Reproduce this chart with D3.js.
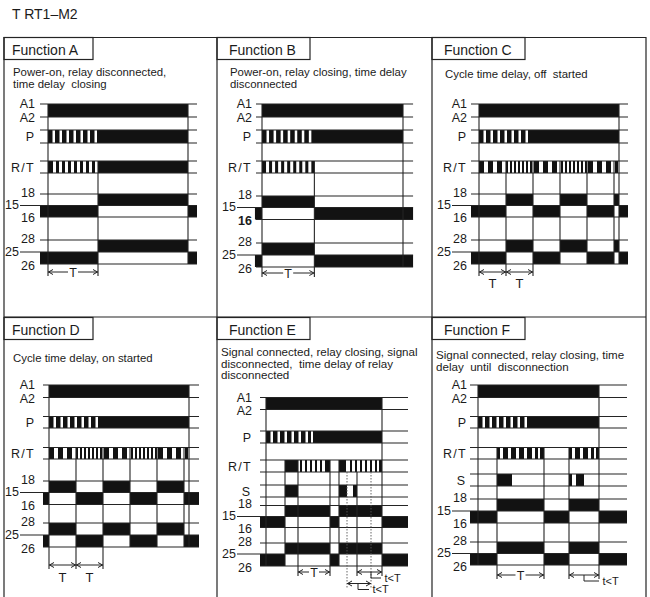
<!DOCTYPE html>
<html>
<head>
<meta charset="utf-8">
<script src="https://cdn.jsdelivr.net/npm/d3@7"></script>
<style>
  body { margin: 0; background: #fff; }
  text { font-family: "Liberation Sans", Arial, sans-serif; fill: #1b1b1b; white-space: pre; }
</style>
</head>
<body>
<svg width="650" height="597"></svg>
<script>
var svg = d3.select('svg');
var ink = '#121212', ruleColor = '#242424';

var pageTitle = 'T RT1\u2013M2';
var funcNames = ['Function A', 'Function B', 'Function C', 'Function D', 'Function E', 'Function F'];
var funcNotes = [
  ['Power-on, relay disconnected,', 'time delay  closing'],
  ['Power-on, relay closing, time delay', 'disconnected'],
  ['Cycle time delay, off  started'],
  ['Cycle time delay, on started'],
  ['Signal connected, relay closing, signal', 'disconnected,  time delay of relay', 'disconnected'],
  ['Signal connected, relay closing, time', 'delay  until  disconnection']
];

// all times: power-on = 0, units
// Function A
var aSupply = [[0, 140]];
var aPulse  = [[0, 4.5], [7, 11.5], [14, 18.5], [21, 25.5], [28, 32.5], [35, 39.5], [42, 46.5], [49, 140]];
var aRelay  = [[0, 5], [8, 11], [14, 17], [20, 23], [26, 29], [32, 35], [38, 41], [44, 47], [50, 140]];
var aNO     = [[50, 140]];
var aNC     = [[-8, 50], [140, 149]];
var aMarks  = [[0, 'a1', 'arrow'], [50, 'rt', 'arrow'], [140, 'a1', 'bot']];
var aSpans  = [[0, 50, 'T']];

// Function B
var bSupply = [[0, 140]];
var bPulse  = [[0, 4.5], [7, 11.5], [14, 18.5], [21, 25.5], [28, 32.5], [35, 39.5], [42, 46.5], [49, 140]];
var bRelay  = [[0, 4], [7, 10], [13, 16], [19, 22], [25, 28], [31, 34], [37, 40], [43, 46], [49, 52]];
var bNO     = [[0, 52]];
var bNC     = [[-7, 0], [52, 150]];
var bMarks  = [[0, 'a1', 'arrow'], [52, 'rt', 'arrow'], [140, 'a1', 'bot']];
var bSpans  = [[0, 52, 'T']];

// Function C
var cSupply = [[0, 140]];
var cPulse  = [[0, 4.5], [7, 11.5], [14, 18.5], [21, 25.5], [28, 32.5], [35, 39.5], [42, 46.5], [49, 140]];
var cRelay  = [[0, 5], [9, 14], [18, 23], [27, 29], [31, 33], [35, 37], [39, 41], [43, 45], [47, 49], [51, 53],
               [55, 60], [64, 69], [73, 78], [82, 84], [86, 88], [90, 92], [94, 96], [98, 100], [102, 104], [106, 108],
               [109, 114], [118, 123], [127, 132], [136, 139]];
var cNO     = [[27, 54], [81, 108], [135, 140]];
var cNC     = [[-8, 27], [54, 81], [108, 135], [140, 149]];
var cMarks  = [[0, 'a1', 'arrow'], [27, 'rt', 'arrow'], [54, 'rt', 'arrow'], [81, 'rt', 'bot'], [108, 'rt', 'bot'],
               [135, 'rt', 'bot'], [140, 'a1', 'bot']];
var cSpans  = [[0, 27, 'T'], [27, 54, 'T']];

// Function D
var dSupply = [[0, 140]];
var dPulse  = [[0, 4.5], [7, 11.5], [14, 18.5], [21, 25.5], [28, 32.5], [35, 39.5], [42, 46.5], [49, 140]];
var dRelay  = [[0, 5], [9, 14], [18, 23], [27, 29], [31, 33], [35, 37], [39, 41], [43, 45], [47, 49], [51, 53],
               [55, 60], [64, 69], [73, 78], [82, 84], [86, 88], [90, 92], [94, 96], [98, 100], [102, 104], [106, 108],
               [109, 114], [118, 123], [127, 132], [136, 139]];
var dNO     = [[0, 27], [54, 81], [108, 135]];
var dNC     = [[-6, 0], [27, 54], [81, 108], [135, 150]];
var dMarks  = [[0, 'a1', 'arrow'], [27, 'rt', 'arrow'], [54, 'rt', 'arrow'], [81, 'rt', 'bot'], [108, 'rt', 'bot'],
               [135, 'rt', 'bot'], [140, 'a1', 'bot']];
var dSpans  = [[0, 27, 'T'], [27, 54, 'T']];

// Function E
var eSupply = [[0, 116]];
var ePulse  = [[0, 4.5], [7, 11.5], [14, 18.5], [21, 25.5], [28, 32.5], [35, 39.5], [42, 45], [47, 116]];
var eRelay  = [[19, 32], [34, 36], [39, 41], [44, 46], [49, 51], [54, 56], [59, 64],
               [73, 80], [84, 86], [89, 91], [94, 96], [99, 101], [104, 106], [109, 111], [113, 116]];
var eSignal = [[19, 32], [73, 81], [87, 91]];
var eNO     = [[19, 64], [73, 116]];
var eNC     = [[-6, 19], [64, 73], [116, 142]];
var eMarks  = [[0, 'a1', 'bot'], [19, 'rt', 'bot'], [32, 'rt', 'arrow'], [64, 'rt', 'arrow'], [73, 'rt', 'bot'],
               [81, 'rtb', 'arrow2', 1], [91, 'rtb', 'arrow'], [105, 'rtb', 'arrow2', 1], [116, 'a1', 'arrow']];
var eSpans  = [[32, 64, 'T'], [91, 116, 't<T', 105, 'arrow', 115], [81, 105, 't<T', 92, 'arrow2', 103]];

// Function F
var fSupply = [[0, 121]];
var fPulse  = [[0, 4.5], [7, 11.5], [14, 18.5], [21, 25.5], [28, 32.5], [35, 39.5], [42, 46.5], [49, 121]];
var fRelay  = [[19, 22], [25, 30], [33, 38], [41, 46], [49, 54], [57, 60], [62, 66],
               [91, 94], [97, 102], [105, 110], [113, 116], [118, 121]];
var fSignal = [[19, 34], [91, 94], [98, 106]];
var fNO     = [[19, 66], [91, 121]];
var fNC     = [[-8, 19], [66, 91], [121, 149]];
var fMarks  = [[0, 'a1', 'bot'], [19, 'rt', 'arrow'], [66, 'rt', 'arrow'], [91, 'rt', 'arrow'], [121, 'a1', 'arrow']];
var fSpans  = [[19, 66, 'T'], [91, 121, 't<T', 106, 'arrow', 121]];

// row layouts (pixels)
var layA = {a1: 104, a2: 117, p: [130, 143], rt: [161, 173], c1: [194, 205.5, 217], c2: [240, 252, 264], arrow: 272, below: 283};
var layB = {a1: 104, a2: 117, p: [130, 143], rt: [161, 173], c1: [196, 207.5, 219.5], c2: [243, 255, 267], arrow: 273, below: 283};
var layD = {a1: 385, a2: 397.5, p: [416.5, 428], rt: [447.5, 459], c1: [481, 492.5, 504.5], c2: [523, 535, 547], arrow: 565, below: 577};
var layE = {a1: 397.5, a2: 409.5, p: [431, 443], rt: [460, 472], s: [485, 497], c1: [505.5, 516.5, 527.5], c2: [543, 554, 566], arrow: 572, arrow2: 583.5};
var layF = {a1: 385, a2: 397.5, p: [416.5, 428], rt: [447.5, 459], s: [474, 486], c1: [499, 511, 523], c2: [542, 553.5, 565], arrow: 575};

var panels = [
  {x0: 0,   top: 37,  on: 48,  off: 188, tOff: 140, span: [-8, 149], lay: layA, supply: aSupply, pulse: aPulse, relay: aRelay, no: aNO, nc: aNC, marks: aMarks, spans: aSpans},
  {x0: 217, top: 37,  on: 262, off: 403, tOff: 140, span: [-6, 150], lay: layB, supply: bSupply, pulse: bPulse, relay: bRelay, no: bNO, nc: bNC, marks: bMarks, spans: bSpans, bold16: true},
  {x0: 432, top: 37,  on: 479, off: 619, tOff: 140, span: [-8, 149], lay: layA, supply: cSupply, pulse: cPulse, relay: cRelay, no: cNO, nc: cNC, marks: cMarks, spans: cSpans, below: true},
  {x0: 0,   top: 317, on: 49,  off: 189, tOff: 140, span: [-6, 150], lay: layD, supply: dSupply, pulse: dPulse, relay: dRelay, no: dNO, nc: dNC, marks: dMarks, spans: dSpans, below: true},
  {x0: 217, top: 317, on: 266, off: 382, tOff: 116, span: [-6, 142], lay: layE, supply: eSupply, pulse: ePulse, relay: eRelay, signal: eSignal, no: eNO, nc: eNC, marks: eMarks, spans: eSpans},
  {x0: 432, top: 317, on: 478, off: 599, tOff: 121, span: [-8, 149], lay: layF, supply: fSupply, pulse: fPulse, relay: fRelay, signal: fSignal, no: fNO, nc: fNC, marks: fMarks, spans: fSpans}
];

// note baselines, offset from panel top
var noteOffsets = [[39, 51], [39, 51], [41], [45], [39, 50.5, 62], [42, 53.5]];

// page title and frame
svg.append('rect').attr('width', 650).attr('height', 597).attr('fill', '#fff');
svg.append('text').attr('x', 12).attr('y', 19).attr('font-size', 14).text(pageTitle);

var frame = svg.append('g').attr('stroke', ruleColor).attr('stroke-width', 1.2).attr('fill', 'none');
frame.append('path').attr('d', 'M4,597V37.5H646V597');
frame.append('path').attr('d', 'M4,317H646M217,37.5V597M432,37.5V597');

function drawPanel(pn, i) {
  var L = pn.lay;
  var g = svg.append('g');
  var x = d3.scaleLinear().domain([0, pn.tOff]).range([pn.on, pn.off]);
  var xl = x(pn.span[0]), xr = x(pn.span[1]);
  var labR = pn.x0 + 35;
  var yKey = {
    a1: L.a1, rt: L.rt[0], rtb: L.rt[1], bot: L.c2[2],
    arrow: L.arrow + 4, arrow2: (L.arrow2 || L.arrow) + 4
  };

  // tab with the function name
  var tabX = pn.x0 ? pn.x0 : 4;
  g.append('rect').attr('x', tabX).attr('y', pn.top + 0.5)
    .attr('width', pn.x0 + 93 - tabX).attr('height', 22)
    .attr('fill', 'none').attr('stroke', ruleColor).attr('stroke-width', 1.2);
  g.append('text').attr('x', pn.x0 + 12).attr('y', pn.top + 17.5)
    .attr('font-size', 14).text(funcNames[i]);

  g.selectAll('.note').data(funcNotes[i]).enter().append('text')
    .attr('x', pn.x0 + (i >= 4 ? 4 : 13))
    .attr('y', function(d, k) { return pn.top + noteOffsets[i][k]; })
    .attr('font-size', i >= 4 ? 11.6 : 11.4).text(function(d) { return d; });

  function blocks(segs, y0, y1) {
    g.append('g').selectAll('rect').data(segs).enter().append('rect')
      .attr('x', function(d) { return x(d[0]); })
      .attr('width', function(d) { return x(d[1]) - x(d[0]); })
      .attr('y', y0).attr('height', y1 - y0)
      .attr('fill', ink);
  }
  function rule(y, left) {
    g.append('line').attr('x1', left == null ? xl : left).attr('x2', xr)
      .attr('y1', y).attr('y2', y)
      .attr('stroke', ruleColor).attr('stroke-width', 1.1);
  }
  function label(t, xx, y, anchor, bold) {
    g.append('text').attr('x', xx).attr('y', y).attr('dy', '0.36em')
      .attr('text-anchor', anchor || 'end').attr('font-size', 12.5)
      .attr('font-weight', bold ? 'bold' : null).text(t);
  }

  // bars
  blocks(pn.supply, L.a1, L.a2);
  blocks(pn.pulse, L.p[0], L.p[1]);
  blocks(pn.relay, L.rt[0], L.rt[1]);
  if (pn.signal) blocks(pn.signal, L.s[0], L.s[1]);
  blocks(pn.no, L.c1[0], L.c1[1]);
  blocks(pn.nc, L.c1[1], L.c1[2]);
  blocks(pn.no, L.c2[0], L.c2[1]);
  blocks(pn.nc, L.c2[1], L.c2[2]);

  // horizontal rules
  [L.a1, L.a2, L.p[0], L.p[1], L.rt[0], L.rt[1], L.c1[0], L.c1[2], L.c2[0], L.c2[2]].forEach(function(y) { rule(y); });
  if (L.s) { rule(L.s[0]); rule(L.s[1]); }
  rule(L.c1[1], pn.x0 + 20);
  rule(L.c2[1], pn.x0 + 20);

  // row labels
  label('A1', labR, L.a1 - 0.5);
  label('A2', labR, L.a2 + 0.5);
  label('P', labR - 1, (L.p[0] + L.p[1]) / 2);
  g.append('text').attr('x', labR).attr('y', (L.rt[0] + L.rt[1]) / 2).attr('dy', '0.36em')
    .attr('text-anchor', 'end').attr('font-size', 12.5).attr('letter-spacing', 1.3).text('R/T');
  if (L.s) label('S', labR - 2, (L.s[0] + L.s[1]) / 2);
  label('18', labR, L.c1[0] - 2);
  label('15', pn.x0 + 5, L.c1[1] - 1, 'start');
  label('16', labR, L.c1[2] + 0.5, 'end', pn.bold16);
  label('28', labR, L.c2[0] - 2);
  label('25', pn.x0 + 5, L.c2[1] - 1, 'start');
  label('26', labR, L.c2[2] + 1);

  // vertical time marks
  g.append('g').selectAll('line').data(pn.marks).enter().append('line')
    .attr('x1', function(d) { return x(d[0]); }).attr('x2', function(d) { return x(d[0]); })
    .attr('y1', function(d) { return yKey[d[1]]; }).attr('y2', function(d) { return yKey[d[2]]; })
    .attr('stroke', function(d) { return d[3] ? '#555' : ruleColor; })
    .attr('stroke-width', function(d) { return d[3] ? 0.9 : 1.1; })
    .attr('stroke-dasharray', function(d) { return d[3] ? '1.5,1.5' : null; });

  // dimension arrows
  pn.spans.forEach(function(s) {
    var x1 = x(s[0]), x2 = x(s[1]);
    var y = s[4] ? L[s[4]] : L.arrow;
    var inline = s[2] === 'T' && !pn.below;
    var a = g.append('g').attr('stroke', ruleColor).attr('stroke-width', 1).attr('fill', 'none');
    if (inline) {
      var mid = (x1 + x2) / 2;
      a.append('path').attr('d', 'M' + x1 + ',' + y + 'H' + (mid - 5) + 'M' + (mid + 5) + ',' + y + 'H' + x2);
      g.append('text').attr('x', mid).attr('y', y).attr('dy', '0.36em')
        .attr('text-anchor', 'middle').attr('font-size', 12.5).text('T');
    } else {
      a.append('path').attr('d', 'M' + x1 + ',' + y + 'H' + x2);
    }
    a.append('path').attr('d', 'M' + (x1 + 5) + ',' + (y - 2.5) + 'L' + (x1 + 0.5) + ',' + y + 'L' + (x1 + 5) + ',' + (y + 2.5));
    a.append('path').attr('d', 'M' + (x2 - 5) + ',' + (y - 2.5) + 'L' + (x2 - 0.5) + ',' + y + 'L' + (x2 - 5) + ',' + (y + 2.5));
    if (pn.below && s[2] === 'T') {
      g.append('text').attr('x', (x1 + x2) / 2).attr('y', L.below).attr('dy', '0.36em')
        .attr('text-anchor', 'middle').attr('font-size', 13).text('T');
    }
    if (s[3] != null) {
      var hx = x(s[3]), hEnd = x(s[5]);
      a.append('path').attr('d', 'M' + hx + ',' + y + 'V' + (y + 6) + 'H' + hEnd);
      g.append('text').attr('x', hEnd + 3.5).attr('y', y + 6).attr('dy', '0.36em')
        .attr('font-size', 11).text(s[2]);
    }
  });
}

panels.forEach(drawPanel);
</script>
</body>
</html>
